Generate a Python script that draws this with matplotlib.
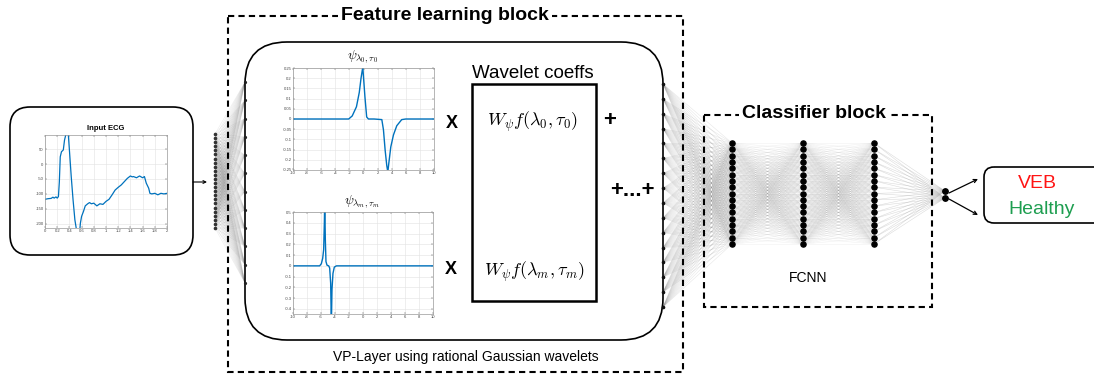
import numpy as np
import matplotlib
matplotlib.use("Agg")
import matplotlib.pyplot as plt
from matplotlib.patches import FancyBboxPatch, Rectangle
from matplotlib.collections import LineCollection

plt.rcParams['font.family'] = ['Liberation Sans', 'DejaVu Sans']
plt.rcParams['mathtext.fontset'] = 'cm'

W, H = 1094, 376

# input ECG beat (time s, amplitude)
ecg_t = [0.0, 0.05, 0.1, 0.13, 0.15, 0.18, 0.2, 0.22, 0.235, 0.25, 0.27, 0.3, 0.32,
         0.34, 0.36, 0.38, 0.4, 0.43, 0.46, 0.49, 0.52, 0.55, 0.57, 0.58, 0.6, 0.63,
         0.66, 0.7, 0.73, 0.76, 0.8, 0.85, 0.9, 0.95, 1.0, 1.05, 1.1, 1.15, 1.2, 1.25,
         1.3, 1.35, 1.4, 1.43, 1.45, 1.5, 1.55, 1.6, 1.63, 1.66, 1.7, 1.72, 1.75, 1.8,
         1.85, 1.9, 1.95, 2.0]
ecg_v = [-118, -116, -115, -111, -114, -110, -114, -109, -60, 24, 41, 47, 80,
         97, 130, 105, 47, -42, -120, -187, -225, -228, -222, -198, -175, -159,
         -140, -133, -129, -133, -131, -140, -133, -135, -125, -118, -103, -87, -78, -70,
         -59, -48, -40, -43, -42, -46, -40, -46, -42, -64, -81, -98, -100, -98,
         -103, -98, -100, -98]

# rational Gaussian wavelet, first atom
wav0_x = [-10, -3.0, -2.1, -1.6, -1.0, -0.6, -0.35, -0.1, -0.05, 0.2, 0.45, 0.7,
          1.5, 2.6, 2.83, 3.07, 3.3, 3.45, 3.58, 3.87, 4.25, 4.72, 5.42, 6.0, 10]
wav0_y = [0, 0, 0.0, 0.015, 0.06, 0.13, 0.2, 0.255, 0.23, 0.11, 0.01, 0.0,
          0.0, -0.003, -0.053, -0.153, -0.228, -0.26, -0.22, -0.137, -0.078, -0.033, -0.003, 0, 0]

# rational Gaussian wavelet, last atom
wavm_x = [-10, -6.4, -6.19, -5.95, -5.76, -5.62, -5.52, -5.47, -5.38, -5.29, -5.14,
          -4.9, -4.76, -4.62, -4.52, -4.43, -4.29, -4.1, -3.8, 10]
wavm_y = [0, 0, 0.0, 0.02, 0.07, 0.15, 0.4, 0.6, 0.24, 0.04, 0.006,
          0.0, -0.02, -0.16, -0.55, -0.22, -0.07, -0.012, 0.0, 0]

n_input = 24
n_vp_in = 12
n_vp_out = 16
n_hidden = 17
n_out = 2
classes = ["VEB", "Healthy"]
class_colors = ["#ff1414", "#1e9e50"]

blue = '#0072BD'

fig = plt.figure(figsize=(W / 100, H / 100), dpi=100)
ax = fig.add_axes([0, 0, 1, 1])
ax.set_xlim(0, W)
ax.set_ylim(H, 0)
ax.axis('off')


def px_axes(x0, y0, x1, y1):
    return fig.add_axes([x0 / W, 1 - y1 / H, (x1 - x0) / W, (y1 - y0) / H])


def fan(xa, ya, xb, yb, alpha=0.25):
    segs = [[(xa, a), (xb, b)] for a in ya for b in yb]
    ax.add_collection(LineCollection(segs, colors='#888888', linewidths=0.4,
                                     alpha=alpha, zorder=1))


def rbox(x0, y0, x1, y1, r, lw=1.2):
    ax.add_patch(FancyBboxPatch((x0, y0), x1 - x0, y1 - y0,
                                boxstyle="round,pad=0,rounding_size=%d" % r,
                                fc='none', ec='black', lw=lw, zorder=3))


def small_plot(a, xlim, ylim, xticks, yticks, fmt):
    a.set_xlim(*xlim)
    a.set_ylim(*ylim)
    a.set_xticks(xticks)
    a.set_yticks(yticks)
    a.set_xticklabels([fmt(v) for v in xticks])
    a.set_yticklabels([fmt(v) for v in yticks])
    a.tick_params(labelsize=3, length=1.2, width=0.3, pad=1, colors='#444444',
                  direction='in', top=True, right=True)
    a.grid(True, color='#e2e2e2', lw=0.4)
    for s in a.spines.values():
        s.set_color('#999999')
        s.set_linewidth(0.5)


# ---- input ECG box
rbox(10, 107, 193, 255, 20)
ax.text(106, 129, "Input ECG", ha='center', va='center', fontsize=5.5, fontweight='bold')
ea = px_axes(45, 135, 167, 228)
ea.plot(ecg_t, ecg_v, color=blue, lw=0.9)
small_plot(ea, (0, 2), (-214, 97), [round(0.2 * i, 1) for i in range(11)],
           [50, 0, -50, -100, -150, -200], lambda v: "%g" % v)
ax.annotate("", xy=(207, 182), xytext=(193, 182),
            arrowprops=dict(arrowstyle='->', lw=0.8, color='black',
                            shrinkA=0, shrinkB=0, mutation_scale=5))

# ---- network nodes
y_in = np.linspace(134, 228, n_input)
y_vp_in = np.linspace(82, 283, n_vp_in)
y_vp_out = np.linspace(84, 307, n_vp_out)
x_hidden = [732, 803, 874]
y_hidden = np.linspace(143, 244, n_hidden)
y_out = np.linspace(191, 198, n_out)

fan(215, y_in, 245, y_vp_in, alpha=0.15)
fan(663, y_vp_out, x_hidden[0], y_hidden, alpha=0.2)
fan(x_hidden[0], y_hidden, x_hidden[1], y_hidden, alpha=0.12)
fan(x_hidden[1], y_hidden, x_hidden[2], y_hidden, alpha=0.12)
fan(x_hidden[2], y_hidden, 945, y_out, alpha=0.3)

ax.plot([215] * n_input, y_in, 'o', color='#333333', ms=1.6, zorder=4)
ax.plot([245] * n_vp_in, y_vp_in, 'o', color='#222222', ms=1.3, zorder=4)
ax.plot([663] * n_vp_out, y_vp_out, 'o', color='#111111', ms=1.6, zorder=4)
for xh in x_hidden:
    ax.plot([xh] * n_hidden, y_hidden, 'o', color='black', ms=3.7, zorder=4)
ax.plot([945] * n_out, y_out, 'o', color='black', ms=3.9, zorder=4)

# ---- feature learning block
ax.add_patch(Rectangle((228, 16), 683 - 228, 372 - 16, fc='none', ec='black',
                       lw=1.5, ls=(0, (3, 2)), zorder=2))
ax.text(445, 16, "Feature learning block", ha='center', va='center', fontsize=14,
        fontweight='bold', zorder=5,
        bbox=dict(fc='white', ec='none', pad=2))
rbox(245, 42, 663, 340, 42)
ax.text(466, 357, "VP-Layer using rational Gaussian wavelets", ha='center',
        va='center', fontsize=10)

ax.text(362, 57, r"$\psi_{\lambda_0,\tau_0}$", ha='center', va='center', fontsize=9.5)
w0 = px_axes(293, 68, 434, 170)
w0.plot(wav0_x, wav0_y, color=blue, lw=1)
small_plot(w0, (-10, 10), (-0.25, 0.25), list(range(-10, 11, 2)),
           [round(-0.25 + 0.05 * i, 2) for i in range(11)], lambda v: "%g" % v)

ax.text(362, 202, r"$\psi_{\lambda_m,\tau_m}$", ha='center', va='center', fontsize=9.5)
wm = px_axes(293, 212, 433, 314)
wm.plot(wavm_x, wavm_y, color=blue, lw=1)
small_plot(wm, (-10, 10), (-0.447, 0.5), list(range(-10, 11, 2)),
           [round(-0.4 + 0.1 * i, 1) for i in range(10)], lambda v: "%g" % v)

ax.text(452, 123, "X", ha='center', va='center', fontsize=13, fontweight='bold')
ax.text(451, 270, "X", ha='center', va='center', fontsize=13, fontweight='bold')
ax.text(533, 73, "Wavelet coeffs", ha='center', va='center', fontsize=13.5)
ax.add_patch(Rectangle((472, 84), 596 - 472, 301 - 84, fc='none', ec='black',
                       lw=1.8, zorder=3))
ax.text(533, 122, r"$W_\psi f(\lambda_0, \tau_0)$", ha='center', va='center', fontsize=13)
ax.text(534, 272, r"$W_\psi f(\lambda_m, \tau_m)$", ha='center', va='center', fontsize=13)
ax.text(610, 120, "+", ha='center', va='center', fontsize=16, fontweight='bold')
ax.text(632, 190, "+...+", ha='center', va='center', fontsize=16, fontweight='bold')

# ---- classifier block
ax.add_patch(Rectangle((704, 115), 932 - 704, 307 - 115, fc='none', ec='black',
                       lw=1.5, ls=(0, (3, 2)), zorder=2))
ax.text(814, 114, "Classifier block", ha='center', va='center', fontsize=14,
        fontweight='bold', zorder=5,
        bbox=dict(fc='white', ec='none', pad=2))
ax.text(808, 278, "FCNN", ha='center', va='center', fontsize=10)

# ---- output
for yb, ye in [(193, 179), (199, 215)]:
    ax.annotate("", xy=(978, ye), xytext=(949, yb),
                arrowprops=dict(arrowstyle='->', lw=0.9, color='black',
                                shrinkA=0, shrinkB=0, mutation_scale=6))
rbox(984, 167, 1110, 223, 10)
ax.text(1037, 184, classes[0], ha='center', va='center', fontsize=14, color=class_colors[0])
ax.text(1042, 209, classes[1], ha='center', va='center', fontsize=14, color=class_colors[1])

fig.savefig("out.png", dpi=100)
